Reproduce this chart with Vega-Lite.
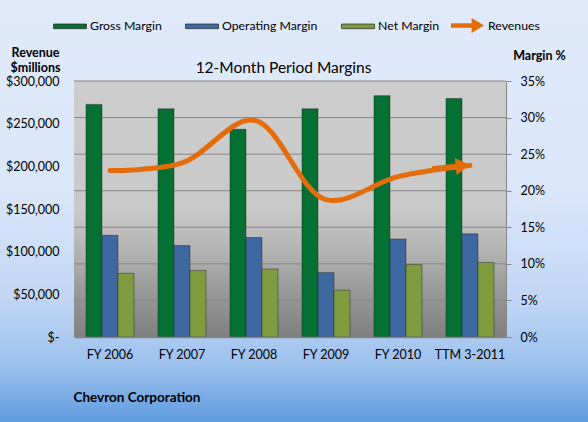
{
  "$schema": "https://vega.github.io/schema/vega-lite/v6.json",
  "width": 432,
  "height": 256,
  "autosize": {"type": "none"},
  "padding": {"left": 74, "top": 81, "right": 82, "bottom": 85},
  "background": "#dbe7fa",
  "config": {
    "font": "Lato",
    "view": {"stroke": null},
    "axis": {"labelFont": "Lato", "titleFont": "Lato", "labelColor": "#000000", "titleColor": "#000000"},
    "legend": {"zindex": 1}
  },
  "datasets": {
    "bg": [{"x0": "FY 2006", "x1": "TTM 3-2011", "y0": -11.7, "y1": 46.1}],
    "plot": [{"x0": "FY 2006", "x1": "TTM 3-2011", "y0": 0, "y1": 35}],
    "grid": [{"v": 5}, {"v": 10}, {"v": 15}, {"v": 20}, {"v": 25}, {"v": 30}, {"v": 35}],
    "margins": [
      {"period": "FY 2006", "series": "Gross Margin", "pct": 31.8},
      {"period": "FY 2006", "series": "Operating Margin", "pct": 13.9},
      {"period": "FY 2006", "series": "Net Margin", "pct": 8.7},
      {"period": "FY 2007", "series": "Gross Margin", "pct": 31.2},
      {"period": "FY 2007", "series": "Operating Margin", "pct": 12.5},
      {"period": "FY 2007", "series": "Net Margin", "pct": 9.1},
      {"period": "FY 2008", "series": "Gross Margin", "pct": 28.4},
      {"period": "FY 2008", "series": "Operating Margin", "pct": 13.6},
      {"period": "FY 2008", "series": "Net Margin", "pct": 9.3},
      {"period": "FY 2009", "series": "Gross Margin", "pct": 31.2},
      {"period": "FY 2009", "series": "Operating Margin", "pct": 8.8},
      {"period": "FY 2009", "series": "Net Margin", "pct": 6.4},
      {"period": "FY 2010", "series": "Gross Margin", "pct": 33.0},
      {"period": "FY 2010", "series": "Operating Margin", "pct": 13.4},
      {"period": "FY 2010", "series": "Net Margin", "pct": 9.9},
      {"period": "TTM 3-2011", "series": "Gross Margin", "pct": 32.6},
      {"period": "TTM 3-2011", "series": "Operating Margin", "pct": 14.1},
      {"period": "TTM 3-2011", "series": "Net Margin", "pct": 10.2}
    ],
    "revenue": [
      {"period": "FY 2006", "series": "Revenues", "rev": 195000},
      {"period": "FY 2007", "series": "Revenues", "rev": 204000},
      {"period": "FY 2008", "series": "Revenues", "rev": 254000},
      {"period": "FY 2009", "series": "Revenues", "rev": 161000},
      {"period": "FY 2010", "series": "Revenues", "rev": 188000},
      {"period": "TTM 3-2011", "series": "Revenues", "rev": 201000}
    ]
  },
  "layer": [
    {
      "layer": [
        {
          "data": {"name": "bg"},
          "mark": {
            "type": "rect",
            "fill": {
              "gradient": "linear", "x1": 0, "y1": 0, "x2": 0, "y2": 1,
              "stops": [
                {"offset": 0, "color": "#e0eafb"},
                {"offset": 0.45, "color": "#dae6fa"},
                {"offset": 0.7, "color": "#c2d7f4"},
                {"offset": 0.86, "color": "#9fc2ee"},
                {"offset": 1, "color": "#5e9be0"}
              ]
            }
          },
          "encoding": {
            "x": {
              "field": "x0",
              "type": "nominal",
              "bandPosition": -5,
              "scale": {
                "domain": ["FY 2006", "FY 2007", "FY 2008", "FY 2009", "FY 2010", "TTM 3-2011"],
                "paddingInner": 0.3333,
                "paddingOuter": 0.16667
              },
              "axis": {
                "orient": "bottom",
                "zindex": 1,
                "grid": false,
                "title": "Chevron Corporation",
                "titleFontSize": 13.5,
                "titleFontWeight": "bold",
                "titleAlign": "left",
                "titleBaseline": "alphabetic",
                "titleX": -1,
                "titleY": 64,
                "labelAngle": 0,
                "labelFontSize": 12.5,
                "labelPadding": 11,
                "ticks": false,
                "domain": true,
                "domainColor": "#868686",
                "domainWidth": 1.5
              }
            },
            "x2": {"field": "x1", "bandPosition": 6},
            "y": {
              "field": "y0",
              "type": "quantitative",
              "scale": {"domain": [0, 35], "nice": false, "zero": false},
              "axis": {
                "zindex": 1,
                "orient": "right",
                "values": [0, 5, 10, 15, 20, 25, 30, 35],
                "tickCount": 8,
                "labelOverlap": false,
                "labelExpr": "datum.value + '%'",
                "labelFontSize": 12.5,
                "labelPadding": 9,
                "ticks": true,
                "tickSize": 5,
                "tickColor": "#868686",
                "domain": true,
                "domainColor": "#868686",
                "grid": false,
                "title": "Margin %",
                "titleAngle": 0,
                "titleFontSize": 12.5,
                "titleFontWeight": "bold",
                "titleAlign": "center",
                "titleBaseline": "alphabetic",
                "titleX": 33,
                "titleY": -22
              }
            },
            "y2": {"field": "y1"}
          }
        },
        {
          "data": {"name": "plot"},
          "mark": {
            "type": "rect",
            "fill": {
              "gradient": "linear", "x1": 0, "y1": 0, "x2": 0, "y2": 1,
              "stops": [
                {"offset": 0, "color": "#cdcdcd"},
                {"offset": 0.5, "color": "#c9c9c9"},
                {"offset": 0.66, "color": "#b4b4b4"},
                {"offset": 0.82, "color": "#999999"},
                {"offset": 1, "color": "#808080"}
              ]
            }
          },
          "encoding": {
            "x": {"field": "x0", "type": "nominal", "bandPosition": -0.25},
            "x2": {"field": "x1", "bandPosition": 1.25},
            "y": {"field": "y0", "type": "quantitative"},
            "y2": {"field": "y1"}
          }
        },
        {
          "data": {"name": "grid"},
          "mark": {"type": "rule", "color": "#868686", "strokeWidth": 1},
          "encoding": {
            "y": {"field": "v", "type": "quantitative"}
          }
        },
        {
          "data": {"name": "margins"},
          "mark": {"type": "bar", "stroke": "#1a1a1a", "strokeOpacity": 0.4, "strokeWidth": 1},
          "encoding": {
            "x": {"field": "period", "type": "nominal"},
            "xOffset": {
              "field": "series",
              "scale": {"domain": ["Gross Margin", "Operating Margin", "Net Margin"], "paddingInner": 0, "paddingOuter": 0}
            },
            "y": {"field": "pct", "type": "quantitative"},
            "color": {
              "field": "series",
              "type": "nominal",
              "scale": {
                "domain": ["Gross Margin", "Operating Margin", "Net Margin"],
                "range": ["#047033", "#3d68a0", "#7f9c3e"]
              },
              "legend": {
                "title": null,
                "orient": "none",
                "direction": "horizontal",
                "legendX": -21,
                "legendY": -72,
                "symbolType": "M-1,-0.14H1V0.14H-1Z",
                "symbolSize": 1089,
                "symbolStrokeColor": "#333333",
                "symbolStrokeWidth": 0.8,
                "labelFontSize": 12.3,
                "labelFont": "Lato",
                "labelColor": "#000000",
                "labelOffset": 3,
                "columnPadding": 21
              }
            }
          }
        }
      ]
    },
    {
      "data": {"name": "revenue"},
      "layer": [
        {
          "mark": {"type": "line", "color": "#e46c0a", "strokeWidth": 5, "interpolate": "catmull-rom", "strokeCap": "round"},
          "encoding": {
            "x": {
              "field": "period",
              "type": "nominal",
              "axis": {
                "zindex": 1,
                "orient": "top",
                "labels": false,
                "ticks": false,
                "domain": false,
                "grid": false,
                "title": "12-Month Period Margins",
                "titleFontSize": 15.5,
                "titleFontWeight": "normal",
                "titleAlign": "center",
                "titleBaseline": "alphabetic",
                "titleX": 209,
                "titleY": -9
              }
            },
            "y": {
              "field": "rev",
              "type": "quantitative",
              "scale": {"domain": [0, 300000], "nice": false},
              "axis": {
                "zindex": 1,
                "orient": "left",
                "values": [0, 50000, 100000, 150000, 200000, 250000, 300000],
                "labelExpr": "datum.value === 0 ? '$-' : format(datum.value, '$,')",
                "labelFontSize": 12.5,
                "labelPadding": 15,
                "ticks": false,
                "domain": false,
                "grid": false,
                "title": ["Revenue", "$millions"],
                "titleAngle": 0,
                "titleFontSize": 12.5,
                "titleFontWeight": "bold",
                "titleAlign": "center",
                "titleBaseline": "alphabetic",
                "titleLineHeight": 15,
                "titleX": -39,
                "titleY": -25
              }
            }
          }
        },
        {
          "transform": [{"filter": "datum.period === 'TTM 3-2011'"}],
          "mark": {
            "type": "point",
            "filled": true,
            "opacity": 1,
            "color": "#e46c0a",
            "size": 1444,
            "angle": -6,
            "xOffset": -19,
            "yOffset": 1.5
          },
          "encoding": {
            "x": {"field": "period", "type": "nominal"},
            "y": {"field": "rev", "type": "quantitative"},
            "shape": {
              "field": "series",
              "type": "nominal",
              "scale": {"domain": ["Revenues"], "range": ["M-1,-0.14H0.25V-0.45L1,0L0.25,0.45V0.14H-1Z"]},
              "legend": {
                "title": null,
                "orient": "none",
                "direction": "horizontal",
                "legendX": 377,
                "legendY": -72,
                "symbolSize": 1089,
                "symbolFillColor": "#e46c0a",
                "symbolStrokeWidth": 0,
                "labelFontSize": 12.3,
                "labelFont": "Lato",
                "labelColor": "#000000",
                "labelOffset": 4
              }
            }
          }
        }
      ]
    }
  ],
  "resolve": {"scale": {"y": "independent"}}
}
